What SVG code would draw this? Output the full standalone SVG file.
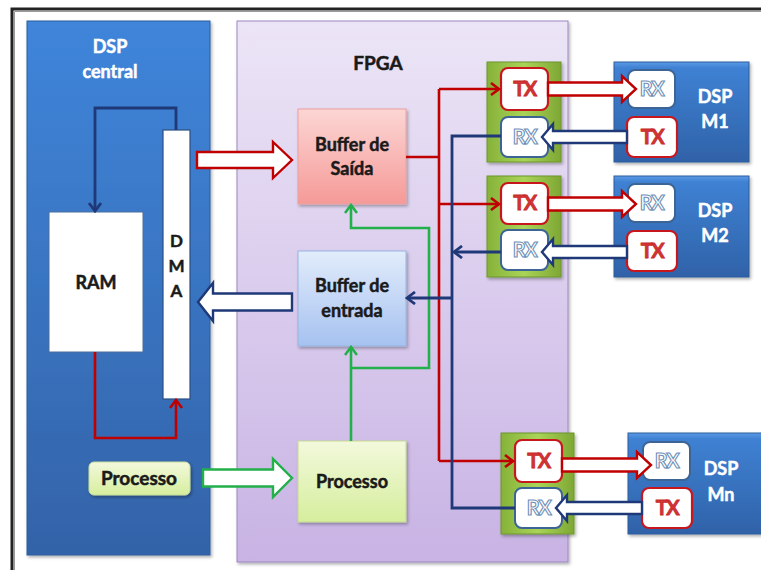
<svg xmlns="http://www.w3.org/2000/svg" width="761" height="570" viewBox="0 0 761 570">
<style>
.t{font-family:Lato,"Open Sans","Liberation Sans",sans-serif;font-weight:bold;text-anchor:middle}
.w{fill:#ffffff;stroke:#ffffff;stroke-width:0.5;font-size:18px}
.k{fill:#1a1a1a;stroke:#1a1a1a;stroke-width:0.5;font-size:18px}
.tx{fill:#d23434;stroke:#c82a2a;stroke-width:0.8;font-size:20px;letter-spacing:-1.5px}
.rx{fill:#ffffff;stroke:#6f8fb8;stroke-width:1.1;font-size:20px;letter-spacing:-1.5px}
.lr{fill:none;stroke:#c00000;stroke-width:2.6}
.ln{fill:none;stroke:#1f3878;stroke-width:2.8}
.lg{fill:none;stroke:#22b04b;stroke-width:2.6}
.hr{fill:#ffffff;stroke:#c00000;stroke-width:2.4}
.hn{fill:#ffffff;stroke:#1f3878;stroke-width:2.4}
.hg{fill:#ffffff;stroke:#22b04b;stroke-width:2.4}
.txb{fill:#ffffff;stroke:#c8161d;stroke-width:2.2}
.rxb{fill:#ffffff;stroke:#3c6494;stroke-width:2}
.trx{fill:url(#gOl);stroke:#6d962c;stroke-width:1}
.dspm{fill:url(#gBlue2);stroke:#2f5d9c;stroke-width:1}
</style>
<defs>
<linearGradient id="gBlue" x1="0" y1="0" x2="0" y2="1"><stop offset="0" stop-color="#3f85da"/><stop offset="1" stop-color="#3363a8"/></linearGradient>
<linearGradient id="gBlue2" x1="0" y1="0" x2="0" y2="1"><stop offset="0" stop-color="#5a9ae6"/><stop offset="0.06" stop-color="#3f81d3"/><stop offset="1" stop-color="#2f62a8"/></linearGradient>
<linearGradient id="gFpga" x1="0" y1="0" x2="0" y2="1"><stop offset="0" stop-color="#ece5f6"/><stop offset="1" stop-color="#c8b3e4"/></linearGradient>
<linearGradient id="gPink" x1="0" y1="0" x2="0" y2="1"><stop offset="0" stop-color="#fcd6d4"/><stop offset="1" stop-color="#f59a98"/></linearGradient>
<linearGradient id="gLb" x1="0" y1="0" x2="0" y2="1"><stop offset="0" stop-color="#e2ecfb"/><stop offset="1" stop-color="#a6c2f0"/></linearGradient>
<linearGradient id="gLg" x1="0" y1="0" x2="0" y2="1"><stop offset="0" stop-color="#f3f9dc"/><stop offset="1" stop-color="#d6ee9d"/></linearGradient>
<linearGradient id="gOl" x1="0" y1="0" x2="1" y2="0"><stop offset="0" stop-color="#86b23a"/><stop offset="0.5" stop-color="#a9d457"/><stop offset="1" stop-color="#7ea734"/></linearGradient>
<filter id="sh" x="-10%" y="-10%" width="130%" height="130%"><feDropShadow dx="1.5" dy="2" stdDeviation="1.5" flood-color="#000" flood-opacity="0.3"/></filter>
<marker id="aR" markerUnits="userSpaceOnUse" markerWidth="12" markerHeight="14" refX="10" refY="7" orient="auto"><path d="M2,1 L10,7 L2,13" fill="none" stroke="#c00000" stroke-width="2.6"/></marker>
<marker id="aN" markerUnits="userSpaceOnUse" markerWidth="12" markerHeight="14" refX="10" refY="7" orient="auto"><path d="M2,1 L10,7 L2,13" fill="none" stroke="#1f3878" stroke-width="2.8"/></marker>
<marker id="aG" markerUnits="userSpaceOnUse" markerWidth="12" markerHeight="14" refX="10" refY="7" orient="auto"><path d="M2,1 L10,7 L2,13" fill="none" stroke="#22b04b" stroke-width="2.6"/></marker>
</defs>
<rect width="761" height="570" fill="#ffffff"/>
<g id="frame">
<path d="M12,570 V9 H761" fill="none" stroke="#222" stroke-width="3"/>
<path d="M14.5,570 V11.5 H761" fill="none" stroke="#9a9a9a" stroke-width="1"/>
</g>
<g id="dsp-central">
<rect x="27" y="21" width="183" height="534" fill="url(#gBlue)" stroke="#2f5d9c" stroke-width="1" filter="url(#sh)"/>
<text class="t w" x="110" y="53">DSP</text>
<text class="t w" x="110" y="78">central</text>
</g>
<g id="fpga">
<rect x="237" y="21" width="331" height="541" fill="url(#gFpga)" stroke="#9d88c0" stroke-width="1" filter="url(#sh)"/>
<text class="t k" x="378" y="70" style="font-size:19px">FPGA</text>
</g>
<g id="ram">
<rect x="49" y="212" width="94" height="140" fill="#ffffff" stroke="#4a6e9e" stroke-width="1"/>
<text class="t k" x="96" y="289">RAM</text>
</g>
<g id="dma">
<rect x="163" y="130" width="27" height="269" fill="#ffffff" stroke="#2a4f84" stroke-width="1.2"/>
<text class="t k" x="176.5" y="247" style="font-size:17px">D</text>
<text class="t k" x="176.5" y="272" style="font-size:17px">M</text>
<text class="t k" x="176.5" y="297" style="font-size:17px">A</text>
</g>
<g id="processo-dsp">
<rect x="89" y="462" width="101" height="33" rx="5" fill="url(#gLg)" stroke="#c9dc9a" stroke-width="1" filter="url(#sh)"/>
<text class="t k" x="139" y="485" style="font-size:19px">Processo</text>
</g>
<g id="buffer-saida">
<rect x="298" y="109" width="108" height="95" fill="url(#gPink)" stroke="#e8a0a0" stroke-width="1" filter="url(#sh)"/>
<text class="t k" x="352" y="151">Buffer de</text>
<text class="t k" x="352" y="175">Saída</text>
</g>
<g id="buffer-entrada">
<rect x="298" y="251" width="108" height="95" fill="url(#gLb)" stroke="#98b4e0" stroke-width="1" filter="url(#sh)"/>
<text class="t k" x="352" y="292">Buffer de</text>
<text class="t k" x="352" y="317">entrada</text>
</g>
<g id="processo-fpga">
<rect x="298" y="441" width="108" height="81" fill="url(#gLg)" stroke="#c5da94" stroke-width="1" filter="url(#sh)"/>
<text class="t k" x="352" y="488">Processo</text>
</g>
<g id="trx1">
<rect class="trx" x="487" y="62" width="74" height="100" filter="url(#sh)"/>
<rect class="txb" x="501" y="68" width="47" height="42" rx="7"/>
<text class="t tx" x="524.5" y="96">TX</text>
<rect class="rxb" x="501" y="117" width="47" height="40" rx="7"/>
<text class="t rx" x="524.5" y="144">RX</text>
</g>
<g id="trx2">
<rect class="trx" x="487" y="176" width="74" height="101" filter="url(#sh)"/>
<rect class="txb" x="501" y="183" width="47" height="41" rx="7"/>
<text class="t tx" x="524.5" y="210">TX</text>
<rect class="rxb" x="501" y="230" width="47" height="40" rx="7"/>
<text class="t rx" x="524.5" y="257">RX</text>
</g>
<g id="trx3">
<rect class="trx" x="501" y="433" width="73" height="101" filter="url(#sh)"/>
<rect class="txb" x="515" y="440" width="47" height="42" rx="7"/>
<text class="t tx" x="538.5" y="468">TX</text>
<rect class="rxb" x="515" y="488" width="47" height="40" rx="7"/>
<text class="t rx" x="538.5" y="515">RX</text>
</g>
<g id="dsp-m1">
<rect class="dspm" x="614" y="62" width="135" height="100" filter="url(#sh)"/>
<rect class="rxb" x="628" y="70" width="47" height="38" rx="7"/>
<text class="t rx" x="651.5" y="96">RX</text>
<rect class="txb" x="627" y="117" width="50" height="40" rx="7"/>
<text class="t tx" x="652" y="144">TX</text>
<text class="t w" x="715" y="103">DSP</text>
<text class="t w" x="715" y="128">M1</text>
</g>
<g id="dsp-m2">
<rect class="dspm" x="614" y="176" width="135" height="101" filter="url(#sh)"/>
<rect class="rxb" x="628" y="184" width="47" height="38" rx="7"/>
<text class="t rx" x="651.5" y="210">RX</text>
<rect class="txb" x="627" y="231" width="50" height="40" rx="7"/>
<text class="t tx" x="652" y="258">TX</text>
<text class="t w" x="715" y="217">DSP</text>
<text class="t w" x="715" y="242">M2</text>
</g>
<g id="dsp-mn">
<rect class="dspm" x="628" y="433" width="140" height="101" filter="url(#sh)"/>
<rect class="rxb" x="643" y="442" width="47" height="38" rx="7"/>
<text class="t rx" x="666.5" y="468">RX</text>
<rect class="txb" x="642" y="488" width="50" height="40" rx="7"/>
<text class="t tx" x="667" y="515">TX</text>
<text class="t w" x="721" y="475">DSP</text>
<text class="t w" x="721" y="501">Mn</text>
</g>
<g id="connectors">
<path class="ln" d="M176,130 V108 H95 V211" marker-end="url(#aN)"/>
<path class="lr" d="M95,352 V438 H176 V400" marker-end="url(#aR)"/>
<path class="lg" d="M351,441 V347" marker-end="url(#aG)"/>
<path class="lg" d="M351,368 H429 V228 H351 V205" marker-end="url(#aG)"/>
<path class="lr" d="M406,157 H439"/>
<path class="lr" d="M439,89 V461"/>
<path class="lr" d="M439,89 H499" marker-end="url(#aR)"/>
<path class="lr" d="M439,204 H499" marker-end="url(#aR)"/>
<path class="lr" d="M439,461 H513" marker-end="url(#aR)"/>
<path class="ln" d="M501,136 H452 V508 H515"/>
<path class="ln" d="M501,252 H454" marker-end="url(#aN)"/>
<path class="ln" d="M452,298 H407" marker-end="url(#aN)"/>
<polygon class="hr" points="197,152 273,152 273,142 292,160 273,178 273,168 197,168"/>
<polygon class="hn" points="292,293.5 213,293.5 213,283 198,302 213,321 213,310.5 292,310.5"/>
<polygon class="hg" points="203,469.5 273,469.5 273,459 292,478 273,497 273,486.5 203,486.5"/>
<polygon class="hr" points="548,82.5 622,82.5 622,76 636,89 622,102 622,95.5 548,95.5"/>
<polygon class="hn" points="627,131 553,131 553,124 542,137 553,150 553,143 627,143"/>
<polygon class="hr" points="548,197.5 622,197.5 622,191 636,204 622,217 622,210.5 548,210.5"/>
<polygon class="hn" points="627,246 553,246 553,239 542,252 553,265 553,258 627,258"/>
<polygon class="hr" points="562,458.5 637,458.5 637,452 651,465 637,478 637,471.5 562,471.5"/>
<polygon class="hn" points="642,502 567,502 567,495 556,508 567,521 567,514 642,514"/>
</g>
</svg>
